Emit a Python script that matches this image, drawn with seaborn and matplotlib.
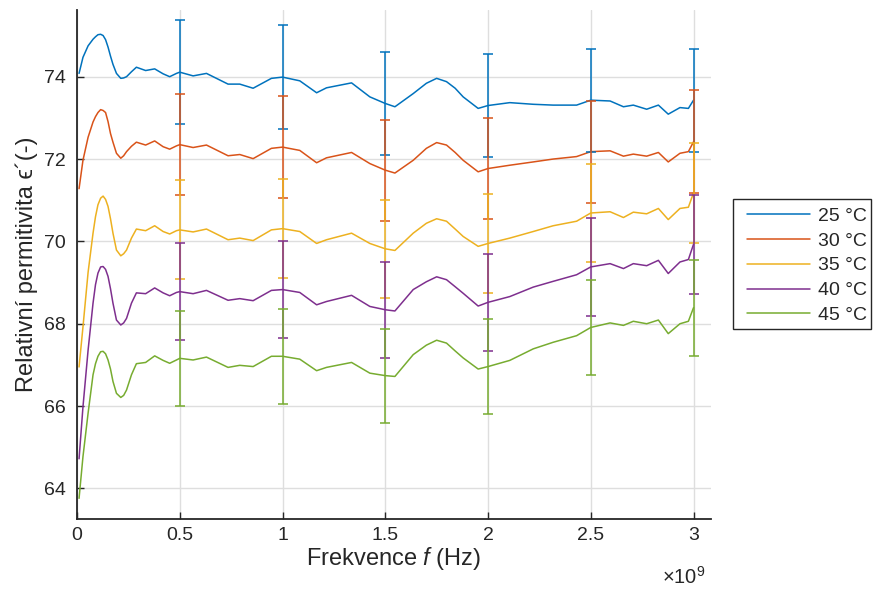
import matplotlib
matplotlib.use("Agg")
import matplotlib.pyplot as plt
from matplotlib.patches import Rectangle
from matplotlib.ticker import FuncFormatter, MultipleLocator
import pandas as pd
import seaborn as sns

sns.set_theme(style="whitegrid")
plt.rcParams["font.family"] = ["Liberation Sans", "DejaVu Sans"]
plt.rcParams["mathtext.fontset"] = "custom"
plt.rcParams["mathtext.rm"] = "Liberation Sans"
plt.rcParams["mathtext.it"] = "Liberation Sans:italic"

# Measured frequencies (GHz)
freq_ghz = [0.010, 0.029, 0.054, 0.078, 0.090, 0.102, 0.115, 0.127, 0.139, 0.151,
            0.163, 0.175, 0.192, 0.213, 0.227, 0.241, 0.265, 0.289, 0.334, 0.378,
            0.419, 0.451, 0.484, 0.5, 0.565, 0.630, 0.735, 0.792, 0.857, 0.946,
            1.0, 1.084, 1.166, 1.214, 1.336, 1.425, 1.5, 1.547, 1.636, 1.70,
            1.75, 1.798, 1.84, 1.879, 1.952, 2.0, 2.106, 2.22, 2.317, 2.431,
            2.5, 2.594, 2.659, 2.707, 2.772, 2.829, 2.877, 2.934, 2.975, 3.0]

temps = ["25 °C", "30 °C", "35 °C", "40 °C", "45 °C"]

eps_25 = [74.08, 74.47, 74.75, 74.91, 74.97, 75.02, 75.03, 75.00, 74.90, 74.72,
          74.50, 74.30, 74.08, 73.96, 73.97, 74.00, 74.12, 74.23, 74.15, 74.19,
          74.07, 74.00, 74.08, 74.11, 74.02, 74.08, 73.82, 73.82, 73.72, 73.96,
          73.99, 73.90, 73.61, 73.73, 73.85, 73.51, 73.35, 73.27, 73.59, 73.84,
          73.96, 73.88, 73.72, 73.51, 73.23, 73.30, 73.37, 73.33, 73.31, 73.31,
          73.43, 73.41, 73.27, 73.31, 73.21, 73.31, 73.09, 73.25, 73.23, 73.43]
eps_30 = [71.28, 71.97, 72.53, 72.90, 73.03, 73.13, 73.20, 73.18, 73.13, 72.91,
          72.62, 72.41, 72.14, 72.02, 72.08, 72.18, 72.31, 72.41, 72.34, 72.44,
          72.30, 72.24, 72.32, 72.35, 72.28, 72.34, 72.08, 72.11, 72.01, 72.26,
          72.29, 72.21, 71.91, 72.03, 72.16, 71.89, 71.73, 71.66, 71.97, 72.26,
          72.40, 72.34, 72.16, 71.97, 71.69, 71.77, 71.85, 71.93, 72.00, 72.06,
          72.18, 72.20, 72.07, 72.12, 72.07, 72.16, 71.93, 72.14, 72.18, 72.42]
eps_35 = [66.95, 67.92, 69.25, 70.20, 70.60, 70.89, 71.05, 71.10, 71.02, 70.85,
          70.55, 70.20, 69.79, 69.65, 69.70, 69.79, 70.08, 70.30, 70.26, 70.38,
          70.24, 70.18, 70.26, 70.28, 70.23, 70.30, 70.04, 70.08, 70.02, 70.28,
          70.31, 70.24, 69.95, 70.04, 70.20, 69.95, 69.82, 69.78, 70.20, 70.44,
          70.55, 70.49, 70.30, 70.12, 69.88, 69.95, 70.08, 70.24, 70.38, 70.49,
          70.69, 70.72, 70.58, 70.71, 70.67, 70.80, 70.53, 70.80, 70.83, 71.18]
eps_40 = [64.72, 65.98, 67.36, 68.50, 68.95, 69.23, 69.38, 69.39, 69.32, 69.15,
          68.85, 68.50, 68.09, 67.97, 68.02, 68.13, 68.50, 68.75, 68.73, 68.87,
          68.75, 68.68, 68.76, 68.78, 68.73, 68.81, 68.57, 68.61, 68.56, 68.81,
          68.83, 68.76, 68.46, 68.54, 68.69, 68.42, 68.34, 68.31, 68.83, 69.02,
          69.14, 69.07, 68.90, 68.74, 68.43, 68.52, 68.66, 68.89, 69.03, 69.19,
          69.38, 69.46, 69.34, 69.46, 69.41, 69.54, 69.22, 69.50, 69.56, 69.93]
eps_45 = [63.76, 64.77, 65.83, 66.76, 67.03, 67.21, 67.32, 67.33, 67.27, 67.12,
          66.90, 66.60, 66.31, 66.21, 66.26, 66.39, 66.76, 67.03, 67.06, 67.22,
          67.11, 67.04, 67.12, 67.16, 67.12, 67.19, 66.94, 66.99, 66.96, 67.21,
          67.21, 67.14, 66.86, 66.94, 67.06, 66.80, 66.74, 66.72, 67.25, 67.48,
          67.60, 67.53, 67.34, 67.17, 66.90, 66.96, 67.11, 67.39, 67.55, 67.71,
          67.91, 68.02, 67.96, 68.06, 68.00, 68.09, 67.76, 68.00, 68.06, 68.39]

# Measurement uncertainty (half-width) at selected frequencies
err_freq_ghz = [0.5, 1.0, 1.5, 2.0, 2.5, 3.0]
err_25 = [1.26, 1.26, 1.25, 1.25, 1.25, 1.25]
err_30 = [1.23, 1.23, 1.23, 1.23, 1.24, 1.25]
err_35 = [1.20, 1.20, 1.19, 1.20, 1.20, 1.21]
err_40 = [1.18, 1.18, 1.17, 1.17, 1.19, 1.20]
err_45 = [1.15, 1.15, 1.14, 1.15, 1.16, 1.17]

colors = ["#0072BD", "#D95319", "#EDB120", "#7E2F8E", "#77AC30"]
series = [eps_25, eps_30, eps_35, eps_40, eps_45]
errors = [err_25, err_30, err_35, err_40, err_45]

rows = []
for t, vals in zip(temps, series):
    for f, v in zip(freq_ghz, vals):
        rows.append({"f": f * 1e9, "eps": v, "T": t})
df = pd.DataFrame(rows)

W, H = 874, 589
fig = plt.figure(figsize=(W / 100, H / 100), dpi=100)
ax = fig.add_axes([77 / W, 70.5 / H, 634 / W, 508.5 / H])

sns.lineplot(data=df, x="f", y="eps", hue="T", hue_order=temps,
             palette=colors, linewidth=1.1, estimator=None, sort=False, ax=ax)

for t, vals, err, c in zip(temps, series, errors, colors):
    centers = [vals[freq_ghz.index(f)] for f in err_freq_ghz]
    ax.errorbar([f * 1e9 for f in err_freq_ghz], centers, yerr=err, fmt="none",
                ecolor=c, elinewidth=1.1, capsize=3.6, capthick=1.1, zorder=3)

ax.set_xlim(0, 3.085e9)
ax.set_ylim(63.27, 75.62)
ax.xaxis.set_major_locator(MultipleLocator(0.5e9))
ax.xaxis.set_major_formatter(FuncFormatter(lambda v, _: f"{v / 1e9:g}"))
ax.yaxis.set_major_locator(MultipleLocator(2))

ax.grid(True, color="#dedede", linewidth=1.0)
ax.set_axisbelow(True)
for side in ("top", "right"):
    ax.spines[side].set_visible(False)
for side in ("left", "bottom"):
    ax.spines[side].set_color("#262626")
    ax.spines[side].set_linewidth(1.3)

ax.tick_params(axis="both", which="major", direction="in", length=5, width=1.0,
               colors="#262626", labelsize=14, bottom=True, left=True)
ax.tick_params(axis="y", pad=8)
ax.tick_params(axis="x", pad=6)

ax.set_xlabel(r"Frekvence $f$ (Hz)", fontsize=17, color="#262626", labelpad=1)
ax.set_ylabel("Relativní permitivita ϵ´(-)", fontsize=17, color="#262626", labelpad=4)

ax.text(0.992, -0.093, r"$\times10^{9}$", transform=ax.transAxes, ha="right",
        va="top", fontsize=14.5, color="#262626")

handles, labels = ax.get_legend_handles_labels()
if ax.get_legend() is not None:
    ax.get_legend().remove()
leg = fig.legend(handles, labels, loc="upper left",
                 bbox_to_anchor=(747 / W, 1 - 207 / H), borderaxespad=0,
                 fontsize=14, handlelength=3.25, handletextpad=0.4,
                 labelspacing=0.376, borderpad=0, frameon=False)
for txt in leg.get_texts():
    txt.set_color("#262626")
fig.patches.append(Rectangle((733 / W, 1 - 329 / H), 138 / W, 130 / H,
                             transform=fig.transFigure, facecolor="white",
                             edgecolor="#262626", linewidth=1.0, zorder=0))

fig.savefig("out.png", dpi=100)
